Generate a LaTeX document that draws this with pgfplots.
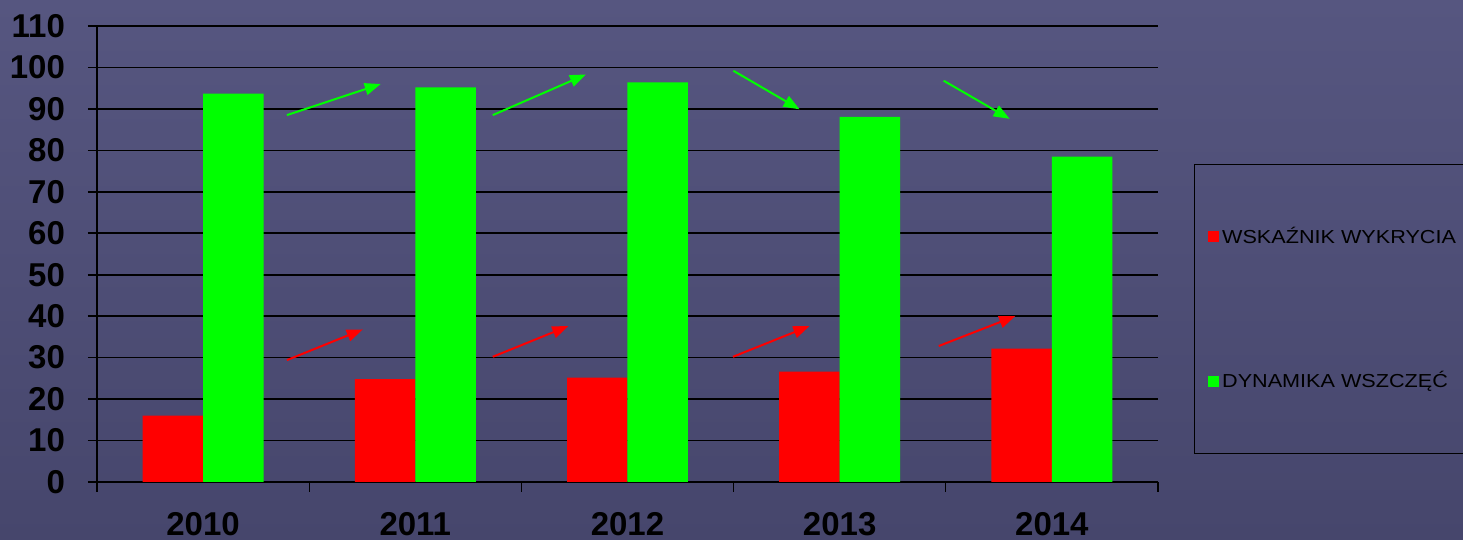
\documentclass[border=0pt]{standalone}
\usepackage{pgfplots}
\pgfplotsset{compat=1.18}
\usepackage{fontspec}
\setmainfont{Liberation Sans}
\newfontfamily\legfont[FakeStretch=1.15]{Liberation Sans}
\usetikzlibrary{arrows.meta}
\definecolor{bgtop}{RGB}{86,86,128}
\definecolor{bgbot}{RGB}{70,70,108}
\pgfplotsset{sqlegend/.style={legend image code/.code={\fill[##1] (0pt,-2.75pt) rectangle (5.5pt,2.75pt);}}}
\begin{document}
\begin{tikzpicture}
\shade[top color=bgtop, bottom color=bgbot] (0,0) rectangle (731.5pt,270pt);
\begin{axis}[
  at={(48.5pt,29pt)}, anchor=south west,
  scale only axis, width=530.5pt, height=228pt,
  xmin=-0.5, xmax=4.5, ymin=0, ymax=110,
  axis x line*=bottom, axis y line*=left,
  axis line style={-, black, line width=0.8pt},
  ytick={0,10,...,110},
  ymajorgrids, major grid style={black, line width=0.8pt},
  xtick={0,1,2,3,4}, xticklabels={2010,2011,2012,2013,2014},
  minor xtick={-0.5,0.5,1.5,2.5,3.5,4.5},
  major x tick style={draw=none},
  minor x tick style={black, line width=0.6pt},
  y tick style={black, line width=0.8pt},
  tick align=outside, major tick length=4.5pt, minor tick length=5pt,
  /pgf/number format/assume math mode=true,
  ticklabel style={font=\fontsize{16.5}{18}\selectfont\bfseries, text=black},
  yticklabel style={xshift=-8pt},
  xticklabel style={yshift=-7pt},
  legend style={at={(1.034,0.697)}, anchor=north west, draw=black, fill=none,
    line width=0.6pt, inner xsep=6.5pt, inner ysep=29.5pt, row sep=59pt,
    font=\legfont\fontsize{9.4}{10}\selectfont, nodes={inner sep=1.75pt}},
  legend cell align=left,
]
\addplot[ybar, bar width=0.285, bar shift=-0.1425, fill=red, draw=none, sqlegend]
  coordinates {(0,16.0) (1,24.8) (2,25.2) (3,26.6) (4,32.2)};
\addlegendentry{WSKAŹNIK WYKRYCIA}
\addplot[ybar, bar width=0.285, bar shift=0.1425, fill=green, draw=none, sqlegend]
  coordinates {(0,93.7) (1,95.2) (2,96.4) (3,88.1) (4,78.5)};
\addlegendentry{DYNAMIKA WSZCZĘĆ}
% trend arrows
\addplot[forget plot, green, line width=1pt, -{Triangle[length=8pt,width=6pt]}] coordinates {(0.395,88.5) (0.837,96.0)};
\addplot[forget plot, green, line width=1pt, -{Triangle[length=8pt,width=6pt]}] coordinates {(1.365,88.5) (1.804,98.3)};
\addplot[forget plot, green, line width=1pt, -{Triangle[length=8pt,width=6pt]}] coordinates {(2.499,99.2) (2.811,89.9)};
\addplot[forget plot, green, line width=1pt, -{Triangle[length=8pt,width=6pt]}] coordinates {(3.490,96.8) (3.801,87.6)};
\addplot[forget plot, red, line width=1pt, -{Triangle[length=8pt,width=6pt]}] coordinates {(0.395,29.4) (0.752,36.8)};
\addplot[forget plot, red, line width=1pt, -{Triangle[length=8pt,width=6pt]}] coordinates {(1.365,30.2) (1.721,37.6)};
\addplot[forget plot, red, line width=1pt, -{Triangle[length=8pt,width=6pt]}] coordinates {(2.497,30.2) (2.857,37.6)};
\addplot[forget plot, red, line width=1pt, -{Triangle[length=8pt,width=6pt]}] coordinates {(3.467,32.8) (3.827,40.0)};
\end{axis}
\pgfresetboundingbox
\path[use as bounding box] (0,0) rectangle (731.5pt,270pt);
\end{tikzpicture}
\end{document}
